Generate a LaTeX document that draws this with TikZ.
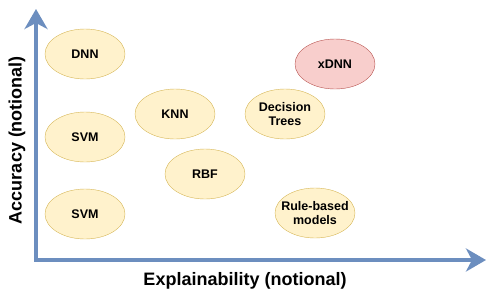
\documentclass[tikz,border=0pt]{standalone}
\usepackage{fontspec}
\setmainfont{Liberation Sans}
\usetikzlibrary{arrows.meta,shapes.geometric}
\definecolor{sand}{HTML}{FFF2CC}
\definecolor{ochre}{HTML}{D6B656}
\definecolor{blush}{HTML}{F8CECC}
\definecolor{rust}{HTML}{B85450}
\definecolor{steel}{HTML}{6C8EBF}
\tikzset{
  model/.style={ellipse,draw=#1,fill=sand,minimum width=80pt,minimum height=50pt,
    inner xsep=-10pt,inner ysep=0pt,align=center,font=\fontsize{12.5}{14}\selectfont\bfseries},
  model/.default=ochre,
  axis/.style={line width=4pt,draw=steel,line join=miter,
    {Stealth[length=20pt,width=23pt,inset=6pt]}-{Stealth[length=20pt,width=23pt,inset=6pt]}},
  axlabel/.style={font=\fontsize{18}{21}\selectfont\bfseries},
}
\begin{document}
\begin{tikzpicture}[x=1pt,y=-1pt]
  \useasboundingbox (0,0) rectangle (496,290);
  % axes
  \coordinate (origin) at (36,260);
  \coordinate (ytip) at (36,9);
  \coordinate (xtip) at (486,260);
  \draw[axis] (ytip) -- (origin) -- (xtip);
  \node[axlabel] (xlab) at (245,281) {Explainability (notional)};
  \node[axlabel,rotate=90] (ylab) at (17,140) {Accuracy (notional)};
  % models
  \node[model] (dnn) at (85,54) {DNN};
  \node[model] (svma) at (85,137) {SVM};
  \node[model] (svmb) at (85,214) {SVM};
  \node[model] (knn) at (175,114) {KNN};
  \node[model] (rbf) at (205,174) {RBF};
  \node[model] (dtree) at (285,114) {Decision\\Trees};
  \node[model] (rules) at (315,213) {Rule-based\\models};
  \node[model=rust,fill=blush] (xdnn) at (335,64) {xDNN};
\end{tikzpicture}
\end{document}
